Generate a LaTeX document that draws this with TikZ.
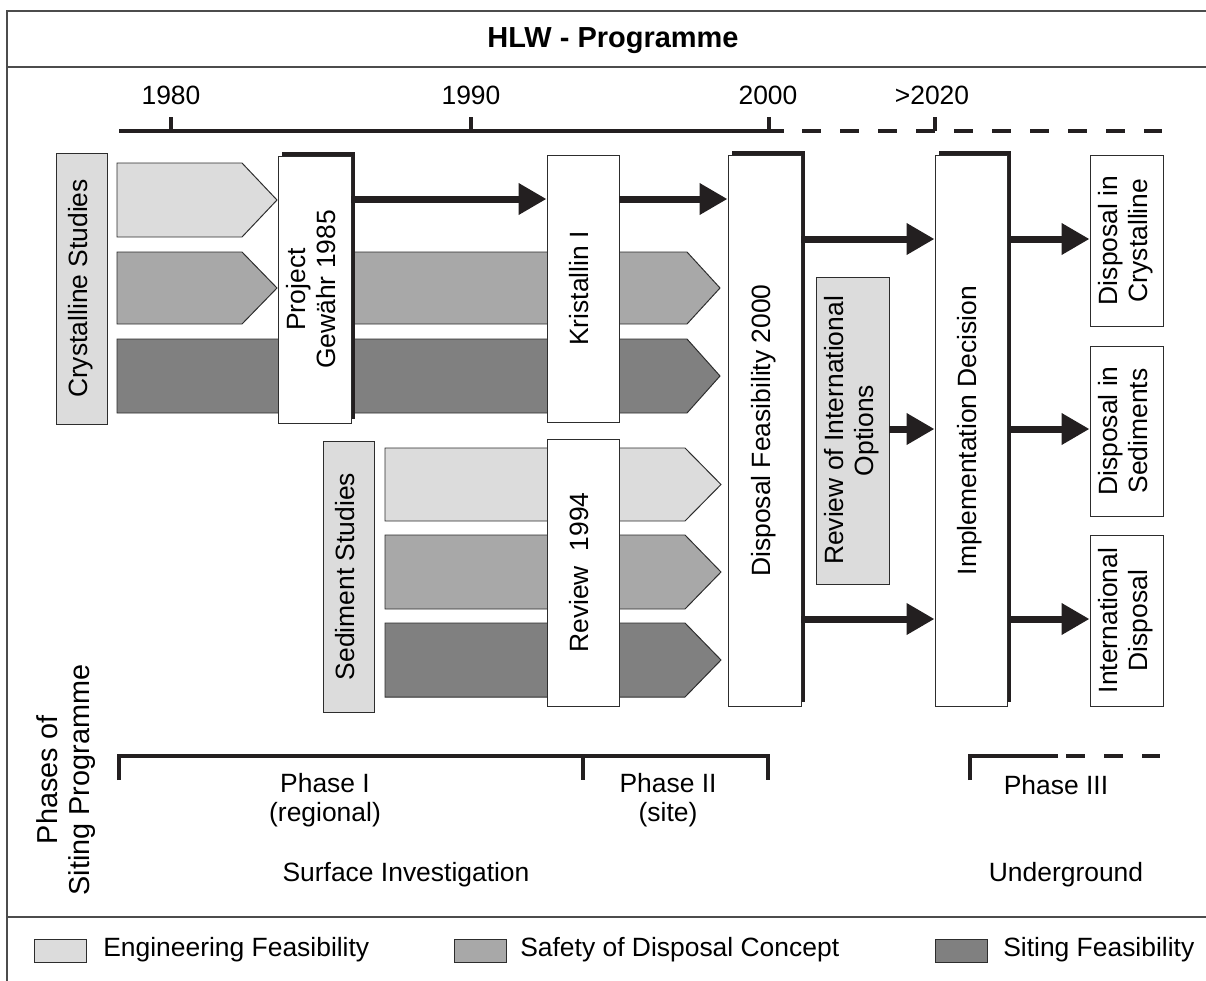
\documentclass[tikz,border=0pt]{standalone}
\usepackage{graphicx}
\usepackage{fontspec}
\setmainfont{Liberation Sans}
\usepackage{tikz}
\usetikzlibrary{arrows.meta, shadows}

\definecolor{engfill}{RGB}{220,220,220}
\definecolor{safefill}{RGB}{168,168,168}
\definecolor{sitefill}{RGB}{128,128,128}
\definecolor{edge}{RGB}{45,45,45}
\definecolor{inkblack}{RGB}{35,31,32}

\newcommand{\pxu}{0.025cm}
\newcommand{\vtext}[1]{\rotatebox{90}{\begin{tabular}{@{}c@{}}#1\end{tabular}}}
\newcommand{\band}[6]{\filldraw[fill=#6,draw=edge,line width=0.7pt] (#1,#4) -- (#2,#4) -- (#3,{(#4+#5)/2}) -- (#2,#5) -- (#1,#5) -- cycle;}

\tikzset{
  dims/.style 2 args={minimum width=#1*\pxu, minimum height=#2*\pxu},
  vbox/.style={draw=edge, fill=white, line width=0.7pt, inner sep=0pt},
  greybox/.style={vbox, fill=engfill},
  shadowed/.style={drop shadow={shadow xshift=0.1cm, shadow yshift=0.1cm, opacity=1, fill=inkblack}},
  flow/.style={draw=inkblack, line width=0.175cm, -{Triangle[length=0.7cm,width=0.75cm]}},
  axisline/.style={draw=inkblack, line width=0.1cm},
  dashline/.style={axisline, dash pattern=on 0.475cm off 0.475cm},
  frame/.style={draw=black!70, line width=0.8pt},
  keybox/.style={draw=edge, line width=0.7pt, dims={52}{23}, inner sep=0pt}
}

\begin{document}
\begin{tikzpicture}[x=0.025cm, y=-0.025cm, font=\fontsize{18.8}{21}\selectfont]

\useasboundingbox (0,0) rectangle (1206,981);

\draw[frame] (1206,11) -- (7,11) -- (7,981);
\draw[frame] (7,67) -- (1206,67);
\draw[frame] (7,917) -- (1206,917);

\node[anchor=base, font=\fontsize{20.6}{24}\selectfont\bfseries] (title) at (613,47) {HLW - Programme};

% time axis
\node (y1980) at (171,95) {1980};
\node (y1990) at (471,95) {1990};
\node (y2000) at (768,95) {2000};
\node (y2020) at (932,95) {>2020};

\draw[axisline] (119,131) -- (784,131);
\draw[dashline] (802,131) -- (1162,131);
\draw[axisline] (171,131) -- (171,117);
\draw[axisline] (471,131) -- (471,117);
\draw[axisline] (769,131) -- (769,117);
\draw[axisline] (935,131) -- (935,117);

% study bands
\band{117}{242}{277}{163}{237}{engfill}
\band{117}{242}{277}{252}{324}{safefill}
\band{340}{687}{720}{252}{324}{safefill}
\band{117}{687}{720}{339}{413}{sitefill}

\band{385}{685}{721}{448}{521}{engfill}
\band{385}{685}{721}{535}{609}{safefill}
\band{385}{685}{721}{623}{697}{sitefill}

\node[greybox, dims={51}{271}] (cryst) at (81.5,288.5) {\vtext{Crystalline Studies}};
\node[greybox, dims={51}{271}] (sedim) at (348.5,576.5) {\vtext{Sediment Studies}};

\node[vbox, shadowed, dims={73}{267}] (proj) at (314.5,289.5) {\vtext{Project\\Gewähr 1985}};
\node[vbox, dims={72}{267}] (kri) at (583,288.5) {\vtext{Kristallin I}};
\node[vbox, dims={72}{267}] (rev) at (583,572.5) {\vtext{Review\ \ 1994}};
\node[vbox, shadowed, dims={73}{551}] (dfeas) at (764.5,430.5) {\vtext{Disposal Feasibility 2000}};
\node[greybox, dims={73}{307}] (revint) at (852.5,430.5) {\vtext{Review of International\\Options}};
\node[vbox, shadowed, dims={72}{551}] (impl) at (971,430.5) {\vtext{Implementation Decision}};
\node[vbox, dims={73}{171}] (dcry) at (1126.5,240.5) {\vtext{Disposal in\\Crystalline}};
\node[vbox, dims={73}{170}] (dsed) at (1126.5,431) {\vtext{Disposal in\\Sediments}};
\node[vbox, dims={73}{171}] (dint) at (1126.5,620.5) {\vtext{International\\Disposal}};

\coordinate (r1) at (0,199);
\coordinate (r2) at (0,239);
\coordinate (r3) at (0,429);
\coordinate (r4) at (0,619);

\draw[flow] (proj.east |- r1) -- (kri.west |- r1);
\draw[flow] (kri.east |- r1) -- (dfeas.west |- r1);
\draw[flow] (dfeas.east |- r2) -- (impl.west |- r2);
\draw[flow] (dfeas.east |- r4) -- (impl.west |- r4);
\draw[flow] (revint.east |- r3) -- (impl.west |- r3);
\draw[flow] (impl.east |- r2) -- (dcry.west |- r2);
\draw[flow] (impl.east |- r3) -- (dsed.west |- r3);
\draw[flow] (impl.east |- r4) -- (dint.west |- r4);

% phases
\node[rotate=90, align=center, font=\fontsize{20.5}{23}\selectfont] (phases) at (66,780) {Phases of\\Siting Programme};

\draw[axisline] (119,780) -- (119,756) -- (768,756) -- (768,780);
\draw[axisline] (583,756) -- (583,780);
\draw[axisline] (970,780) -- (970,756) -- (1058,756);
\draw[dashline] (1066,756) -- (1160,756);

\node[align=center] (ph1) at (325,800) {Phase I\\(regional)};
\node[align=center] (ph2) at (668,800) {Phase II\\(site)};
\node (ph3) at (1056,785) {Phase III};

\node (surf) at (406,875) {Surface Investigation};
\node (under) at (1066,875) {Underground};

% legend
\node[keybox, fill=engfill] (k1) at (60,950.5) {};
\node[keybox, fill=safefill] (k2) at (480.5,950.5) {};
\node[keybox, fill=sitefill] (k3) at (961.5,950.5) {};
\node[anchor=west, inner sep=0pt] (t1) at (103,950) {Engineering Feasibility};
\node[anchor=west, inner sep=0pt] (t2) at (520,950) {Safety of Disposal Concept};
\node[anchor=west, inner sep=0pt] (t3) at (1003,950) {Siting Feasibility};

\end{tikzpicture}
\end{document}
